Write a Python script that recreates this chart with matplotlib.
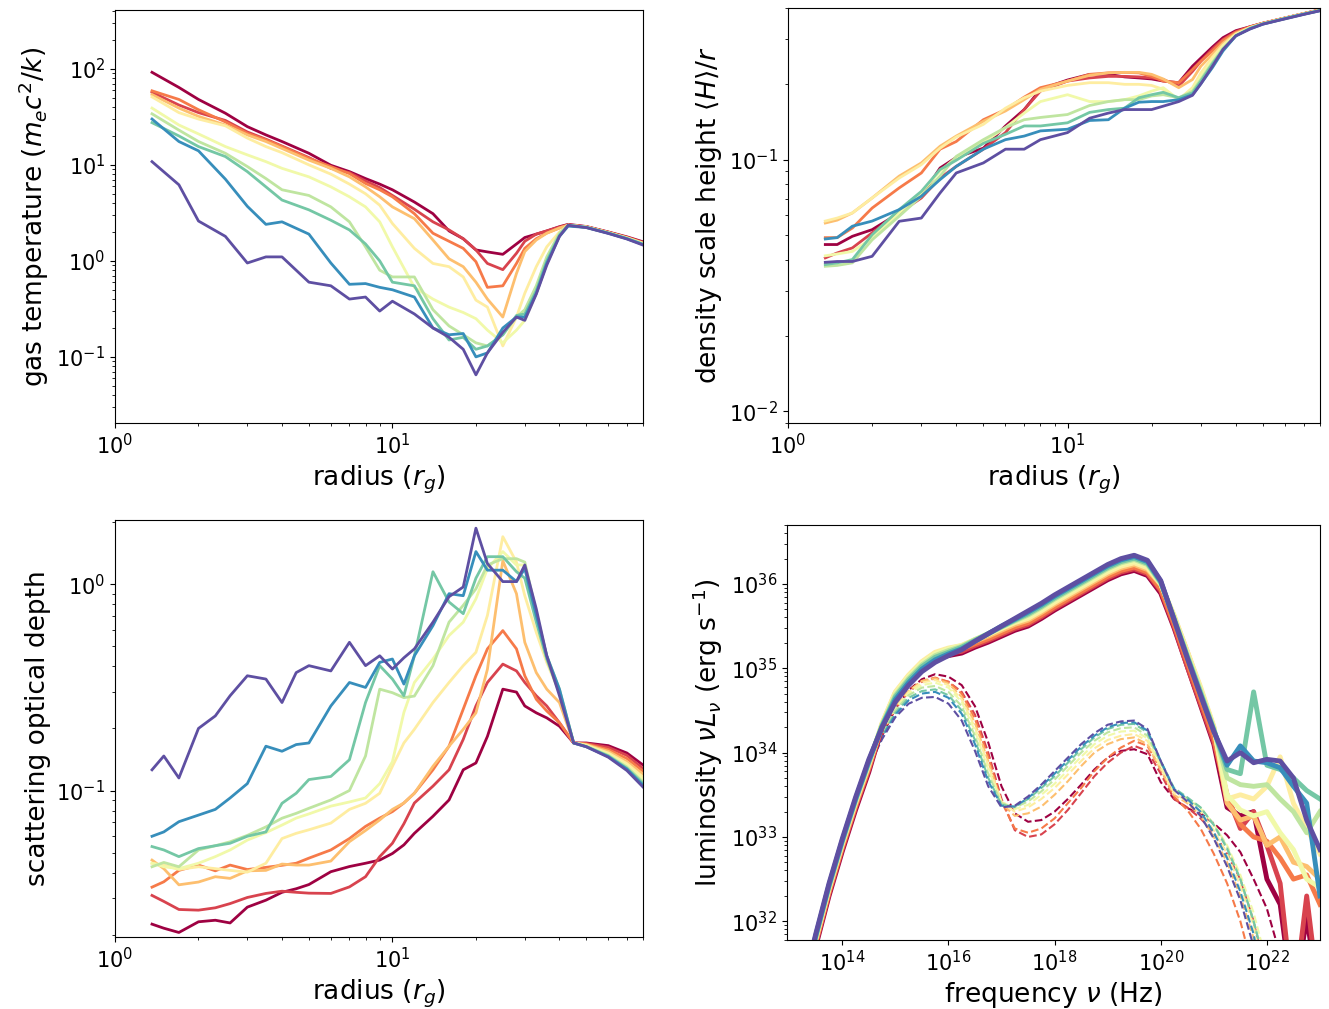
import matplotlib.pyplot as plt
import numpy as np

# ---------- radial profiles (one list per snapshot, dark red -> purple) ----------
r_temp = [1.36, 1.7, 2, 2.5, 3, 3.5, 4, 5, 6, 7, 8, 9, 10, 12, 14, 16, 18, 20,
          22, 25, 28, 30, 33, 36, 40, 43, 50, 60, 70, 80]
gas_temp = [
    [92, 64, 48, 34.5, 25, 20.5, 17.5, 13.2, 9.9, 8.5, 7.2, 6.3, 5.5, 4.1, 3.1, 2.05, 1.7, 1.3,
     1.24, 1.17, 1.5, 1.75, 1.9, 2.05, 2.27, 2.4, 2.28, 2.0, 1.78, 1.58],
    [57, 42, 35, 29, 22, 18.5, 15.7, 11.9, 9.2, 8.3, 6.8, 5.8, 4.8, 3.45, 2.55, 2.1, 1.7, 1.3,
     0.94, 0.81, 1.2, 1.6, 1.9, 2.05, 2.25, 2.38, 2.27, 1.99, 1.76, 1.56],
    [59, 48, 37.5, 28, 21.3, 18.2, 15.5, 11.7, 9.6, 8.1, 6.4, 5.5, 4.65, 3.1, 1.94, 1.6, 1.35, 0.98,
     0.53, 0.55, 0.94, 1.35, 1.7, 1.95, 2.2, 2.36, 2.26, 1.98, 1.75, 1.54],
    [54, 39, 32, 26, 20.5, 17.5, 14.8, 11.2, 9.2, 7.5, 5.9, 4.65, 3.65, 2.75, 1.65, 1.05, 0.87, 0.6,
     0.4, 0.26, 0.74, 1.25, 1.65, 1.94, 2.2, 2.35, 2.25, 1.97, 1.74, 1.53],
    [51, 35, 30, 25.5, 19, 15.5, 13.4, 10, 8.0, 6.3, 5.0, 3.8, 2.45, 1.35, 0.94, 0.87, 0.68, 0.39,
     0.33, 0.13, 0.26, 0.46, 0.87, 1.4, 2.0, 2.35, 2.25, 1.96, 1.73, 1.52],
    [39, 26, 21, 15.5, 12.7, 10.8, 9.2, 7.5, 5.9, 4.65, 3.65, 2.55, 1.4, 0.53, 0.4, 0.33, 0.29, 0.25,
     0.19, 0.14, 0.19, 0.24, 0.46, 0.94, 1.85, 2.35, 2.24, 1.96, 1.72, 1.51],
    [34, 23, 17.5, 13.2, 9.6, 7.2, 5.5, 4.8, 3.65, 2.55, 1.4, 0.8, 0.68, 0.68, 0.31, 0.21, 0.17, 0.14,
     0.13, 0.17, 0.26, 0.31, 0.55, 1.1, 1.94, 2.35, 2.24, 1.95, 1.71, 1.5],
    [27.5, 20, 15.5, 12.2, 8.5, 5.9, 4.3, 3.4, 2.65, 2.1, 1.5, 1.0, 0.6, 0.55, 0.25, 0.15, 0.16, 0.12,
     0.13, 0.17, 0.27, 0.28, 0.49, 1.0, 1.85, 2.35, 2.23, 1.95, 1.71, 1.49],
    [30, 17.5, 14, 7.1, 3.7, 2.4, 2.55, 1.9, 0.95, 0.57, 0.58, 0.53, 0.5, 0.42, 0.2, 0.17, 0.175, 0.1,
     0.11, 0.2, 0.26, 0.26, 0.46, 0.94, 1.8, 2.3, 2.23, 1.94, 1.7, 1.48],
    [10.8, 6.2, 2.6, 1.8, 0.95, 1.1, 1.1, 0.6, 0.55, 0.4, 0.42, 0.3, 0.38, 0.28, 0.2, 0.16, 0.12, 0.065,
     0.11, 0.18, 0.26, 0.24, 0.45, 0.9, 1.8, 2.35, 2.22, 1.93, 1.69, 1.46],
]

r_height = [1.36, 1.5, 1.7, 2, 2.5, 3, 3.5, 4, 5, 6, 7, 8, 10, 12, 14, 16, 18, 20,
            22, 25, 28, 30, 33, 36, 40, 45, 50, 60, 70, 80]
scale_height = [
    [0.046, 0.046, 0.0496, 0.0527, 0.0614, 0.0715, 0.0926, 0.102, 0.111, 0.136, 0.158, 0.19, 0.207,
     0.218, 0.218, 0.213, 0.211, 0.209, 0.205, 0.202, 0.235, 0.253,
     0.28, 0.305, 0.325, 0.337, 0.348, 0.365, 0.38, 0.393],
    [0.0407, 0.0426, 0.0446, 0.0512, 0.0614, 0.0704, 0.0845, 0.094, 0.11, 0.128, 0.158, 0.187, 0.205,
     0.211, 0.214, 0.214, 0.213, 0.211, 0.208, 0.196, 0.224, 0.246,
     0.275, 0.30, 0.322, 0.337, 0.348, 0.365, 0.38, 0.393],
    [0.049, 0.049, 0.0535, 0.0642, 0.0772, 0.0885, 0.11, 0.118, 0.144, 0.158, 0.177, 0.193, 0.205,
     0.218, 0.221, 0.222, 0.221, 0.214, 0.205, 0.202, 0.228, 0.246,
     0.27, 0.297, 0.32, 0.336, 0.348, 0.365, 0.38, 0.393],
    [0.056, 0.0575, 0.0614, 0.0704, 0.086, 0.097, 0.113, 0.124, 0.142, 0.156, 0.173, 0.19, 0.205,
     0.216, 0.221, 0.222, 0.222, 0.218, 0.209, 0.193, 0.208, 0.235,
     0.262, 0.29, 0.317, 0.335, 0.347, 0.365, 0.38, 0.392],
    [0.057, 0.0586, 0.0614, 0.0704, 0.0845, 0.0955, 0.111, 0.123, 0.138, 0.16, 0.176, 0.187, 0.197,
     0.202, 0.202, 0.199, 0.199, 0.197, 0.19, 0.173, 0.193, 0.221,
     0.255, 0.285, 0.315, 0.334, 0.347, 0.364, 0.379, 0.392],
    [0.0415, 0.0422, 0.0432, 0.0488, 0.0614, 0.074, 0.09, 0.102, 0.117, 0.134, 0.153, 0.17, 0.181,
     0.17, 0.17, 0.173, 0.179, 0.187, 0.193, 0.173, 0.19, 0.214,
     0.248, 0.28, 0.313, 0.333, 0.346, 0.364, 0.379, 0.391],
    [0.0377, 0.038, 0.0389, 0.048, 0.0596, 0.0715, 0.086, 0.103, 0.12, 0.134, 0.144, 0.147, 0.151,
     0.164, 0.17, 0.173, 0.173, 0.179, 0.181, 0.176, 0.187, 0.208,
     0.243, 0.277, 0.31, 0.332, 0.346, 0.363, 0.378, 0.391],
    [0.0383, 0.0389, 0.0401, 0.0503, 0.0633, 0.0748, 0.0913, 0.0994, 0.116, 0.126, 0.136, 0.136, 0.14,
     0.154, 0.158, 0.16, 0.176, 0.181, 0.185, 0.176, 0.184, 0.205,
     0.24, 0.273, 0.31, 0.332, 0.346, 0.363, 0.378, 0.391],
    [0.0484, 0.049, 0.0544, 0.057, 0.0633, 0.0715, 0.0833, 0.094, 0.11, 0.12, 0.124, 0.13, 0.132,
     0.143, 0.144, 0.16, 0.169, 0.17, 0.17, 0.173, 0.181, 0.2,
     0.232, 0.27, 0.31, 0.331, 0.345, 0.363, 0.378, 0.39],
    [0.0391, 0.0394, 0.0394, 0.0413, 0.0569, 0.0586, 0.0737, 0.0885, 0.097, 0.11, 0.11, 0.12, 0.128,
     0.146, 0.153, 0.158, 0.158, 0.158, 0.163, 0.17, 0.18, 0.2,
     0.235, 0.274, 0.31, 0.33, 0.345, 0.362, 0.377, 0.39],
]

r_tau = [1.36, 1.5, 1.7, 2, 2.3, 2.6, 3, 3.5, 4, 4.5, 5, 6, 7, 8, 9, 10, 11, 12, 14, 16, 18,
         20, 22, 25, 28, 30, 33, 36, 40, 45, 50, 60, 70, 80]
optical_depth = [
    [0.0225, 0.0215, 0.0205, 0.0231, 0.0235, 0.0228, 0.0272, 0.0294, 0.0321, 0.0334, 0.035, 0.0404,
     0.0428, 0.0444, 0.046, 0.0495, 0.0545, 0.062, 0.075, 0.09, 0.126, 0.136, 0.183, 0.31, 0.30,
     0.257, 0.238, 0.225, 0.205, 0.17, 0.17, 0.165, 0.152, 0.133],
    [0.031, 0.029, 0.0265, 0.0263, 0.027, 0.0283, 0.0303, 0.0317, 0.0325, 0.0321, 0.0318, 0.0317,
     0.0341, 0.0382, 0.0478, 0.0555, 0.069, 0.087, 0.105, 0.126, 0.177, 0.257, 0.334, 0.41, 0.38,
     0.334, 0.288, 0.257, 0.213, 0.17, 0.169, 0.162, 0.148, 0.128],
    [0.034, 0.0361, 0.041, 0.0435, 0.0408, 0.0435, 0.0414, 0.0424, 0.0434, 0.0444, 0.047, 0.0515,
     0.0585, 0.067, 0.0735, 0.079, 0.087, 0.097, 0.126, 0.164, 0.248, 0.36, 0.486, 0.596, 0.486,
     0.36, 0.277, 0.243, 0.213, 0.17, 0.168, 0.158, 0.143, 0.124],
    [0.046, 0.0418, 0.0349, 0.036, 0.0382, 0.0375, 0.0408, 0.041, 0.044, 0.0435, 0.0435, 0.0455,
     0.0565, 0.064, 0.072, 0.081, 0.087, 0.097, 0.131, 0.164, 0.198, 0.238, 0.387, 1.3, 0.9,
     0.523, 0.373, 0.31, 0.267, 0.17, 0.167, 0.155, 0.138, 0.12],
    [0.0444, 0.0435, 0.0414, 0.0427, 0.0418, 0.041, 0.0402, 0.0444, 0.0585, 0.062, 0.0645, 0.0695,
     0.081, 0.0867, 0.097, 0.131, 0.17, 0.198, 0.267, 0.334, 0.403, 0.468, 0.706, 1.7, 1.28,
     0.88, 0.585, 0.418, 0.298, 0.17, 0.166, 0.152, 0.135, 0.116],
    [0.0444, 0.0427, 0.0418, 0.0444, 0.0478, 0.0515, 0.0575, 0.0625, 0.068, 0.0735, 0.077, 0.084,
     0.088, 0.092, 0.108, 0.138, 0.239, 0.334, 0.434, 0.564, 0.655, 0.85, 1.19, 1.44, 1.24,
     1.24, 0.706, 0.442, 0.304, 0.17, 0.165, 0.15, 0.132, 0.113],
    [0.0427, 0.0448, 0.0427, 0.0515, 0.054, 0.0564, 0.0606, 0.0666, 0.0734, 0.0775, 0.082, 0.09,
     0.1, 0.147, 0.31, 0.298, 0.282, 0.287, 0.403, 0.655, 0.79, 0.95, 1.24, 1.33, 1.33,
     1.28, 0.733, 0.45, 0.31, 0.17, 0.164, 0.148, 0.13, 0.11],
    [0.0535, 0.0515, 0.0478, 0.0523, 0.054, 0.0555, 0.06, 0.063, 0.0867, 0.097, 0.113, 0.117,
     0.141, 0.267, 0.403, 0.347, 0.288, 0.45, 1.15, 0.82, 0.72, 1.07, 1.36, 1.36, 1.15,
     1.07, 0.655, 0.434, 0.298, 0.17, 0.163, 0.147, 0.128, 0.108],
    [0.06, 0.063, 0.0706, 0.076, 0.081, 0.092, 0.108, 0.164, 0.155, 0.167, 0.17, 0.257,
     0.334, 0.316, 0.418, 0.434, 0.328, 0.45, 0.63, 0.9, 0.88, 1.44, 1.17, 1.17, 1.03,
     1.19, 0.706, 0.45, 0.31, 0.17, 0.163, 0.146, 0.127, 0.106],
    [0.126, 0.147, 0.115, 0.2, 0.23, 0.288, 0.36, 0.347, 0.267, 0.373, 0.403, 0.38,
     0.523, 0.403, 0.45, 0.388, 0.44, 0.486, 0.655, 0.87, 0.97, 1.87, 1.26, 1.03, 1.03,
     1.24, 0.76, 0.45, 0.288, 0.17, 0.163, 0.145, 0.125, 0.104],
]

# ---------- spectra: log10 frequency bins and log10(nu L_nu) ----------
log_nu = [13.25, 13.5, 13.75, 14.0, 14.25, 14.5, 14.75, 15.0, 15.25, 15.5,
          15.75, 16.0, 16.25, 16.5, 16.75, 17.0, 17.25, 17.5, 17.75, 18.0,
          18.25, 18.5, 18.75, 19.0, 19.25, 19.5, 19.75, 20.0, 20.25, 20.5,
          20.75, 21.0, 21.25, 21.5, 21.75, 22.0, 22.25, 22.5, 22.75, 23.0]
log_lum_total = [
    [31.05, 31.70, 32.30, 32.83, 33.32, 33.77, 34.30, 34.64, 34.84, 35.00,
     35.11, 35.15, 35.18, 35.25, 35.31, 35.38, 35.45, 35.50, 35.59, 35.69,
     35.78, 35.87, 35.96, 36.05, 36.12, 36.16, 36.10, 35.89, 35.48, 35.02,
     34.56, 34.10, 33.35, 33.25, 33.30, 32.50, 32.20, 31.0, 32.05, 31.0],
    [31.08, 31.73, 32.33, 32.86, 33.35, 33.80, 34.30, 34.66, 34.86, 35.02,
     35.13, 35.18, 35.20, 35.27, 35.33, 35.40, 35.47, 35.52, 35.61, 35.71,
     35.80, 35.89, 35.98, 36.07, 36.14, 36.18, 36.12, 35.92, 35.50, 35.02,
     34.58, 34.13, 33.5, 33.1, 33.3, 32.9, 32.45, 31.0, 32.3, 31.0],
    [31.10, 31.75, 32.35, 32.88, 33.37, 33.82, 34.32, 34.68, 34.88, 35.04,
     35.15, 35.20, 35.23, 35.29, 35.35, 35.42, 35.49, 35.54, 35.63, 35.73,
     35.82, 35.91, 36.00, 36.09, 36.16, 36.20, 36.14, 35.94, 35.53, 35.07,
     34.62, 34.18, 33.45, 33.15, 33.0, 32.95, 32.75, 32.5, 32.55, 32.2],
    [31.12, 31.77, 32.37, 32.90, 33.39, 33.84, 34.34, 34.71, 34.91, 35.07,
     35.18, 35.23, 35.26, 35.32, 35.38, 35.45, 35.52, 35.57, 35.66, 35.76,
     35.85, 35.94, 36.03, 36.12, 36.19, 36.23, 36.17, 35.99, 35.62, 35.20,
     34.76, 34.30, 33.4, 33.2, 33.25, 32.9, 33.0, 32.7, 32.65, 32.5],
    [31.14, 31.79, 32.39, 32.92, 33.41, 33.86, 34.35, 34.72, 34.92, 35.08,
     35.19, 35.24, 35.27, 35.34, 35.40, 35.47, 35.54, 35.59, 35.68, 35.78,
     35.87, 35.96, 36.05, 36.14, 36.21, 36.25, 36.19, 36.00, 35.63, 35.20,
     34.78, 34.31, 33.45, 33.5, 33.45, 33.6, 33.95, 33.4, 33.1, 32.8],
    [31.15, 31.80, 32.40, 32.93, 33.42, 33.87, 34.34, 34.70, 34.90, 35.06,
     35.17, 35.23, 35.27, 35.34, 35.41, 35.48, 35.55, 35.61, 35.70, 35.80,
     35.89, 35.98, 36.07, 36.16, 36.23, 36.27, 36.21, 36.00, 35.61, 35.18,
     34.75, 34.29, 33.5, 33.32, 33.25, 33.3, 33.05, 32.85, 32.5, 32.4],
    [31.16, 31.81, 32.41, 32.94, 33.43, 33.88, 34.33, 34.68, 34.88, 35.04,
     35.15, 35.21, 35.26, 35.34, 35.41, 35.49, 35.56, 35.63, 35.72, 35.82,
     35.91, 36.00, 36.09, 36.18, 36.25, 36.29, 36.23, 36.01, 35.60, 35.16,
     34.73, 34.28, 33.7, 33.62, 33.6, 33.62, 33.45, 33.3, 33.05, 33.3],
    [31.17, 31.82, 32.42, 32.95, 33.44, 33.89, 34.32, 34.66, 34.86, 35.02,
     35.13, 35.19, 35.25, 35.33, 35.41, 35.49, 35.57, 35.645, 35.735, 35.835,
     35.925, 36.015, 36.105, 36.195, 36.265, 36.305, 36.245, 36.02, 35.59, 35.14,
     34.71, 34.27, 33.8, 33.75, 34.72, 33.85, 33.8, 33.7, 33.55, 33.45],
    [31.18, 31.83, 32.43, 32.96, 33.45, 33.90, 34.31, 34.63, 34.83, 34.99,
     35.10, 35.17, 35.23, 35.32, 35.41, 35.50, 35.58, 35.665, 35.755, 35.855,
     35.945, 36.035, 36.125, 36.215, 36.285, 36.325, 36.265, 36.03, 35.58, 35.13,
     34.69, 34.26, 33.85, 34.08, 33.9, 33.88, 33.82, 33.6, 33.4, 32.3],
    [31.2, 31.85, 32.45, 32.98, 33.47, 33.92, 34.3, 34.6, 34.8, 34.96,
     35.07, 35.15, 35.22, 35.32, 35.41, 35.5, 35.59, 35.68, 35.77, 35.87,
     35.96, 36.05, 36.14, 36.23, 36.3, 36.34, 36.28, 36.04, 35.58, 35.12,
     34.68, 34.25, 33.9, 34.0, 33.88, 33.92, 33.9, 33.7, 33.2, 32.85],
]
log_lum_part = [
    [31.2, 31.8, 32.4, 32.92, 33.4, 33.83, 34.2, 34.52, 34.74, 34.87,
     34.93, 34.9, 34.8, 34.55, 34.12, 33.6, 33.28, 33.18, 33.2, 33.3,
     33.45, 33.62, 33.8, 33.94, 34.02, 34.04, 33.98, 33.65, 33.45, 33.34,
     33.28, 33.16, 33.02, 32.82, 32.5, 32.15, 31.6, 31.0, 31.0, 31.0],
    [31.22, 31.82, 32.42, 32.94, 33.42, 33.85, 34.22, 34.52, 34.72, 34.84,
     34.88, 34.84, 34.72, 34.45, 34.0, 33.45, 33.08, 33.0, 33.03, 33.15,
     33.32, 33.52, 33.72, 33.88, 34.0, 34.08, 34.02, 33.75, 33.45, 33.35,
     33.22, 33.05, 32.8, 32.5, 32.0, 31.3, 31.0, 31.0, 31.0, 31.0],
    [31.22, 31.83, 32.43, 32.95, 33.43, 33.86, 34.23, 34.53, 34.73, 34.85,
     34.89, 34.84, 34.7, 34.4, 33.95, 33.42, 33.1, 33.05, 33.1, 33.22,
     33.4, 33.58, 33.78, 33.94, 34.06, 34.14, 34.08, 33.8, 33.48, 33.32,
     33.1, 32.8, 32.45, 32.0, 31.4, 31.0, 31.0, 31.0, 31.0, 31.0],
    [31.23, 31.84, 32.44, 32.96, 33.44, 33.87, 34.24, 34.54, 34.73, 34.85,
     34.88, 34.82, 34.66, 34.35, 33.9, 33.4, 33.25, 33.28, 33.36, 33.5,
     33.66, 33.84, 34.0, 34.1, 34.16, 34.18, 34.1, 33.8, 33.5, 33.4,
     33.25, 33.0, 32.7, 32.3, 31.8, 31.0, 31.0, 31.0, 31.0, 31.0],
    [31.24, 31.85, 32.45, 32.97, 33.45, 33.87, 34.24, 34.53, 34.72, 34.83,
     34.86, 34.8, 34.63, 34.3, 33.85, 33.42, 33.3, 33.35, 33.45, 33.58,
     33.74, 33.9, 34.05, 34.15, 34.2, 34.22, 34.14, 33.82, 33.52, 33.42,
     33.3, 33.08, 32.8, 32.42, 31.95, 31.2, 31.0, 31.0, 31.0, 31.0],
    [31.24, 31.85, 32.45, 32.97, 33.45, 33.87, 34.23, 34.52, 34.7, 34.8,
     34.83, 34.77, 34.6, 34.26, 33.8, 33.42, 33.33, 33.38, 33.5, 33.63,
     33.79, 33.95, 34.1, 34.2, 34.25, 34.26, 34.17, 33.85, 33.55, 33.45,
     33.34, 33.15, 32.9, 32.55, 32.1, 31.5, 31.0, 31.0, 31.0, 31.0],
    [31.25, 31.86, 32.46, 32.98, 33.45, 33.86, 34.22, 34.5, 34.68, 34.77,
     34.79, 34.72, 34.55, 34.2, 33.75, 33.4, 33.35, 33.42, 33.54, 33.68,
     33.84, 34.0, 34.14, 34.24, 34.29, 34.3, 34.2, 33.88, 33.56, 33.46,
     33.35, 33.15, 32.88, 32.5, 32.0, 31.4, 31.0, 31.0, 31.0, 31.0],
    [31.25, 31.86, 32.46, 32.98, 33.45, 33.85, 34.2, 34.47, 34.65, 34.73,
     34.75, 34.68, 34.5, 34.15, 33.7, 33.38, 33.36, 33.45, 33.58, 33.72,
     33.88, 34.04, 34.18, 34.28, 34.33, 34.34, 34.24, 33.9, 33.58, 33.47,
     33.35, 33.14, 32.86, 32.5, 32.0, 31.4, 31.0, 31.0, 31.0, 31.0],
    [31.26, 31.87, 32.47, 32.98, 33.45, 33.84, 34.18, 34.45, 34.62, 34.7,
     34.72, 34.65, 34.46, 34.1, 33.66, 33.37, 33.36, 33.46, 33.6, 33.75,
     33.91, 34.07, 34.2, 34.3, 34.35, 34.36, 34.26, 33.9, 33.57, 33.45,
     33.3, 33.05, 32.75, 32.35, 31.85, 31.0, 31.0, 31.0, 31.0, 31.0],
    [31.27, 31.88, 32.48, 32.99, 33.45, 33.83, 34.16, 34.42, 34.58, 34.65,
     34.66, 34.58, 34.38, 34.02, 33.6, 33.35, 33.37, 33.48, 33.62, 33.78,
     33.94, 34.1, 34.23, 34.33, 34.37, 34.38, 34.28, 33.9, 33.56, 33.42,
     33.25, 32.98, 32.65, 32.25, 31.7, 31.0, 31.0, 31.0, 31.0, 31.0],
]

n_lines = len(gas_temp)
colors = [plt.cm.Spectral(i / (n_lines - 1)) for i in range(n_lines)]

fig = plt.figure(figsize=(13.29, 10.09), dpi=100)
ax_t = fig.add_axes([0.0865, 0.5808, 0.3973, 0.4093])
ax_h = fig.add_axes([0.5929, 0.5808, 0.4003, 0.4113])
ax_tau = fig.add_axes([0.0865, 0.0714, 0.3973, 0.4133])
ax_s = fig.add_axes([0.5922, 0.0684, 0.4010, 0.4113])

for i in range(n_lines):
    ax_t.loglog(r_temp, gas_temp[i], color=colors[i], lw=2)
    ax_h.loglog(r_height, scale_height[i], color=colors[i], lw=2)
    ax_tau.loglog(r_tau, optical_depth[i], color=colors[i], lw=2)

nu = 10.0 ** np.array(log_nu)
for i in range(n_lines):
    ax_s.loglog(nu, 10.0 ** np.array(log_lum_part[i]), color=colors[i], lw=1.5, ls='--')
for i in range(n_lines):
    ax_s.loglog(nu, 10.0 ** np.array(log_lum_total[i]), color=colors[i], lw=3.5)

lab = 19
ax_t.set_xlim(1, 80)
ax_t.set_ylim(0.0205, 410)
ax_t.set_xlabel(r'radius ($r_g$)', fontsize=lab)
ax_t.set_ylabel(r'gas temperature $(m_ec^2/k)$', fontsize=lab)

ax_h.set_xlim(1, 80)
ax_h.set_ylim(0.009, 0.40)
ax_h.set_xlabel(r'radius ($r_g$)', fontsize=lab)
ax_h.set_ylabel(r'density scale height $\langle H\rangle/r$', fontsize=lab)

ax_tau.set_xlim(1, 80)
ax_tau.set_ylim(0.0195, 2.05)
ax_tau.set_xlabel(r'radius ($r_g$)', fontsize=lab)
ax_tau.set_ylabel('scattering optical depth', fontsize=lab)

ax_s.set_xlim(9.1e12, 1e23)
ax_s.set_ylim(6e31, 5e36)
ax_s.set_xlabel(r'frequency $\nu$ (Hz)', fontsize=lab)
ax_s.set_ylabel(r'luminosity $\nu L_\nu$ (erg s$^{-1}$)', fontsize=lab)

for ax in (ax_t, ax_h, ax_tau, ax_s):
    ax.tick_params(which='major', labelsize=15)

fig.savefig('out.png', dpi=100)
